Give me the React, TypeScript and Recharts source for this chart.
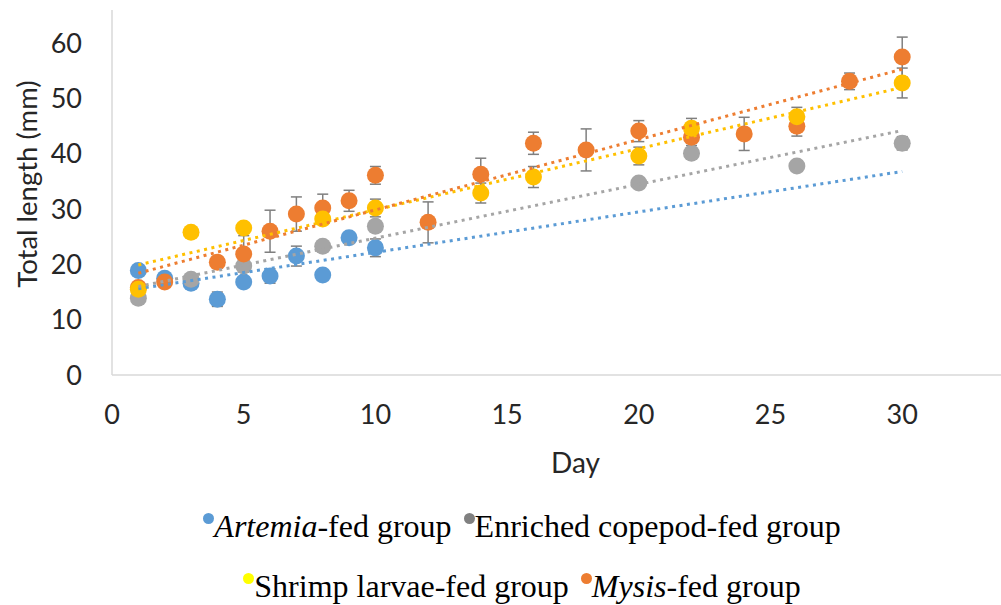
import React from 'react';
import { ScatterChart, Scatter, XAxis, YAxis, ErrorBar } from 'recharts';

// values: day, total length (mm), error (mm)
const artemiaDays = [1, 2, 3, 4, 5, 6, 7, 8, 9, 10];
const artemiaLen = [18.9, 17.5, 16.6, 13.7, 16.8, 17.9, 21.5, 18.1, 24.8, 23.0];
const artemiaErr = [0.8, 0.8, 0.8, 1.3, 0.8, 1.3, 1.8, 0.8, 0.8, 1.6];

const copepodDays = [1, 3, 5, 8, 10, 20, 22, 26, 30];
const copepodLen = [13.9, 17.3, 19.7, 23.3, 26.9, 34.7, 40.1, 37.8, 41.9];
const copepodErr = [0.8, 0.8, 0.8, 0.8, 1.0, 0.8, 0.8, 0.8, 1.2];

const shrimpDays = [1, 3, 5, 8, 10, 14, 16, 20, 22, 26, 30];
const shrimpLen = [15.5, 25.8, 26.6, 28.2, 30.2, 32.9, 35.8, 39.6, 44.6, 46.7, 52.8];
const shrimpErr = [0.8, 0.8, 0.8, 0.8, 1.6, 1.8, 1.9, 1.6, 1.8, 1.7, 2.7];

const mysisDays = [1, 2, 4, 5, 6, 7, 8, 9, 10, 12, 14, 16, 18, 20, 22, 24, 26, 28, 30];
const mysisLen = [15.8, 16.8, 20.4, 21.9, 26.0, 29.1, 30.2, 31.5, 36.1, 27.6, 36.3, 41.9, 40.7, 44.1, 43.0, 43.6, 45.0, 53.1, 57.5];
const mysisErr = [0.8, 0.8, 0.8, 3.3, 3.8, 3.1, 2.5, 1.9, 1.6, 3.7, 2.9, 2.0, 3.8, 1.9, 1.5, 3.0, 1.8, 1.5, 3.6];

// linear trendline ends (day 1 and day 30)
const trendDays = [1, 30];
const artemiaTrend = [15.6, 36.8];
const copepodTrend = [16.0, 44.2];
const shrimpTrend = [19.9, 52.0];
const mysisTrend = [18.4, 55.3];

const xTicks = [0, 5, 10, 15, 20, 25, 30];
const yTicks = [0, 10, 20, 30, 40, 50, 60];

const COLORS = {
  artemia: '#5b9bd5',
  copepod: '#a5a5a5',
  shrimp: '#ffc000',
  mysis: '#ed7d31',
};

const toPoints = (days: number[], len: number[], err?: number[]) =>
  days.map((d, i) => ({ day: d, len: len[i], err: err ? err[i] : 0 }));

const artemiaData = toPoints(artemiaDays, artemiaLen, artemiaErr);
const copepodData = toPoints(copepodDays, copepodLen, copepodErr);
const shrimpData = toPoints(shrimpDays, shrimpLen, shrimpErr);
const mysisData = toPoints(mysisDays, mysisLen, mysisErr);

const axisFont = 'Lato, "Open Sans", sans-serif';
const legendFont = '"Liberation Serif", "DejaVu Serif", serif';

const dot = (color: string) => (p: any) => (
  <circle cx={p.cx} cy={p.cy} r={8.5} fill={color} />
);
const noDot = () => <g />;

const YLabel = (props: any) => {
  const { viewBox } = props;
  const x = viewBox.x + 27;
  const y = 184;
  return (
    <text x={x} y={y} transform={`rotate(-90, ${x}, ${y})`} textAnchor="middle" dy="0.35em"
      fontFamily={axisFont} fontSize={27.5} fill="#262626">
      Total length (mm)
    </text>
  );
};

const XLabel = (props: any) => {
  const { viewBox } = props;
  return (
    <text x={viewBox.x + viewBox.width / 2 + 19} y={473} textAnchor="middle"
      fontFamily={axisFont} fontSize={28} fill="#262626">
      Day
    </text>
  );
};

const legendMarker = (color: string, gap = 0) => (
  <span style={{
    display: 'inline-block', width: 11, height: 11, borderRadius: '50%', background: color,
    verticalAlign: 'top', marginTop: 17, marginLeft: gap,
  }} />
);

const App: React.FC = () => {
  return (
    <div style={{ position: 'absolute', left: 0, top: 0, width: 1001, height: 605, background: '#fff', overflow: 'hidden' }}>
      <ScatterChart width={1001} height={490} margin={{ top: 10, right: 0, left: 0, bottom: 0 }}>
        <XAxis
          type="number"
          dataKey="day"
          domain={[0, 33.75]}
          ticks={xTicks}
          allowDataOverflow
          height={115}
          tickLine={false}
          tickSize={0}
          tickMargin={30}
          axisLine={{ stroke: '#d9d9d9', strokeWidth: 1.5 }}
          tick={{ fontFamily: axisFont, fontSize: 27, fill: '#262626' }}
          label={<XLabel />}
        />
        <YAxis
          type="number"
          dataKey="len"
          domain={[0, 66]}
          ticks={yTicks}
          allowDataOverflow
          width={112}
          tickLine={false}
          tickSize={0}
          tickMargin={30}
          axisLine={{ stroke: '#d9d9d9', strokeWidth: 1.5 }}
          tick={{ fontFamily: axisFont, fontSize: 27, fill: '#262626' }}
          label={<YLabel />}
        />
        <Scatter data={artemiaData} shape={dot(COLORS.artemia)} isAnimationActive={false}>
          <ErrorBar dataKey="err" direction="y" width={5.5} stroke="#7f7f7f" strokeWidth={1.5} />
        </Scatter>
        <Scatter data={copepodData} shape={dot(COLORS.copepod)} isAnimationActive={false}>
          <ErrorBar dataKey="err" direction="y" width={5.5} stroke="#7f7f7f" strokeWidth={1.5} />
        </Scatter>
        <Scatter data={mysisData} shape={dot(COLORS.mysis)} isAnimationActive={false}>
          <ErrorBar dataKey="err" direction="y" width={5.5} stroke="#7f7f7f" strokeWidth={1.5} />
        </Scatter>
        <Scatter data={shrimpData} shape={dot(COLORS.shrimp)} isAnimationActive={false}>
          <ErrorBar dataKey="err" direction="y" width={5.5} stroke="#7f7f7f" strokeWidth={1.5} />
        </Scatter>
        {/* trendlines */}
        <Scatter data={toPoints(trendDays, artemiaTrend)} shape={noDot} isAnimationActive={false}
          line={{ stroke: COLORS.artemia, strokeWidth: 3, strokeDasharray: '3 4.5' }} />
        <Scatter data={toPoints(trendDays, copepodTrend)} shape={noDot} isAnimationActive={false}
          line={{ stroke: COLORS.copepod, strokeWidth: 3, strokeDasharray: '3 4.5' }} />
        <Scatter data={toPoints(trendDays, shrimpTrend)} shape={noDot} isAnimationActive={false}
          line={{ stroke: COLORS.shrimp, strokeWidth: 3, strokeDasharray: '3 4.5' }} />
        <Scatter data={toPoints(trendDays, mysisTrend)} shape={noDot} isAnimationActive={false}
          line={{ stroke: COLORS.mysis, strokeWidth: 3, strokeDasharray: '3 4.5' }} />
      </ScatterChart>

      {/* legend */}
      <div style={{
        position: 'absolute', left: 0, top: 496, width: 1044, textAlign: 'center',
        fontFamily: legendFont, fontSize: 32, color: '#000',
        lineHeight: '60px', whiteSpace: 'nowrap',
      }}>
        <div>
          {legendMarker('#5b9bd5')}<i>Artemia</i>-fed group{' '}
          {legendMarker('#808080', 4)}Enriched copepod-fed group
        </div>
        <div>
          {legendMarker('#ffff00')}Shrimp larvae-fed group{' '}
          {legendMarker('#ed7d31', 4)}<i>Mysis</i>-fed group
        </div>
      </div>
    </div>
  );
};

export default App;
